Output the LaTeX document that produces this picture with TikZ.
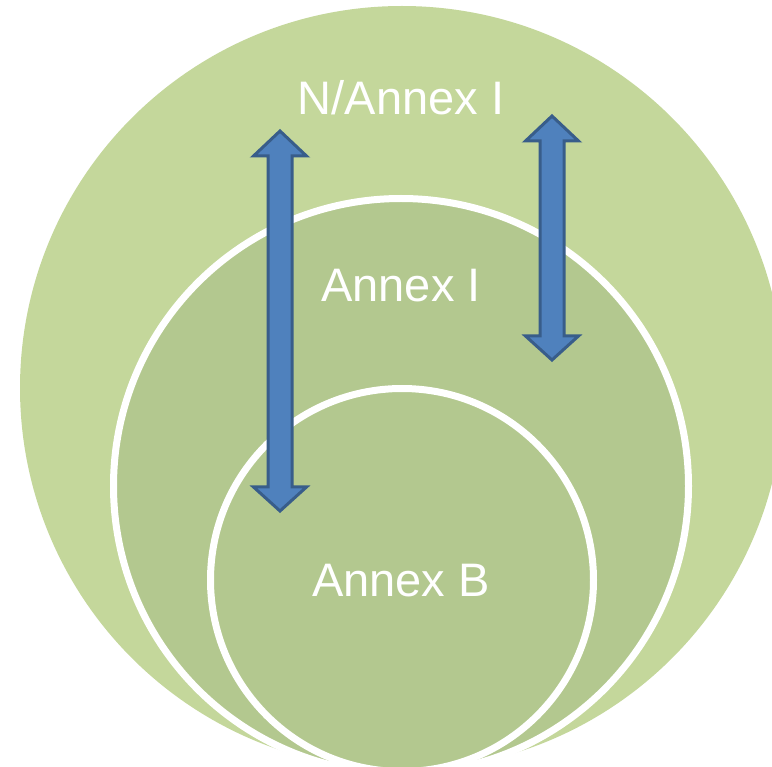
\documentclass[tikz,border=0pt]{standalone}
\usepackage{fontspec}
\setmainfont{Liberation Sans}
\definecolor{outerg}{RGB}{196,215,155}
\definecolor{innerg}{RGB}{179,200,143}
\definecolor{arrfill}{RGB}{79,129,189}
\definecolor{arrline}{RGB}{56,93,138}
\begin{document}
\begin{tikzpicture}[x=1pt,y=-1pt,
  ring/.style={fill=innerg, draw=white, line width=7pt},
  dblarrow/.style={fill=arrfill, draw=arrline, line width=3pt, line join=miter},
  lbl/.style={text=white, font=\fontsize{47}{56}\selectfont, anchor=base, inner sep=0pt}]
\useasboundingbox (0,0) rectangle (772,767);
\clip (0,0) rectangle (772,767);
\fill[outerg] (402,388) circle[radius=382];
\draw[ring] (401,486) circle[radius=287.5];
\draw[ring] (402,580) circle[radius=191.5];
\draw[dblarrow] (280,131) -- (306.5,156) -- (292,156) -- (292,487) -- (306.5,487) -- (280,511)
  -- (253.5,487) -- (268,487) -- (268,156) -- (253.5,156) -- cycle;
\draw[dblarrow] (552,116) -- (578.5,141) -- (564,141) -- (564,336) -- (578.5,336) -- (552,360)
  -- (525.5,336) -- (540,336) -- (540,141) -- (525.5,141) -- cycle;
\node[lbl] (outerlabel) at (401,115) {N/Annex I};
\node[lbl] (midlabel) at (401,302) {Annex I};
\node[lbl] (innerlabel) at (401,596) {Annex B};
\end{tikzpicture}
\end{document}
